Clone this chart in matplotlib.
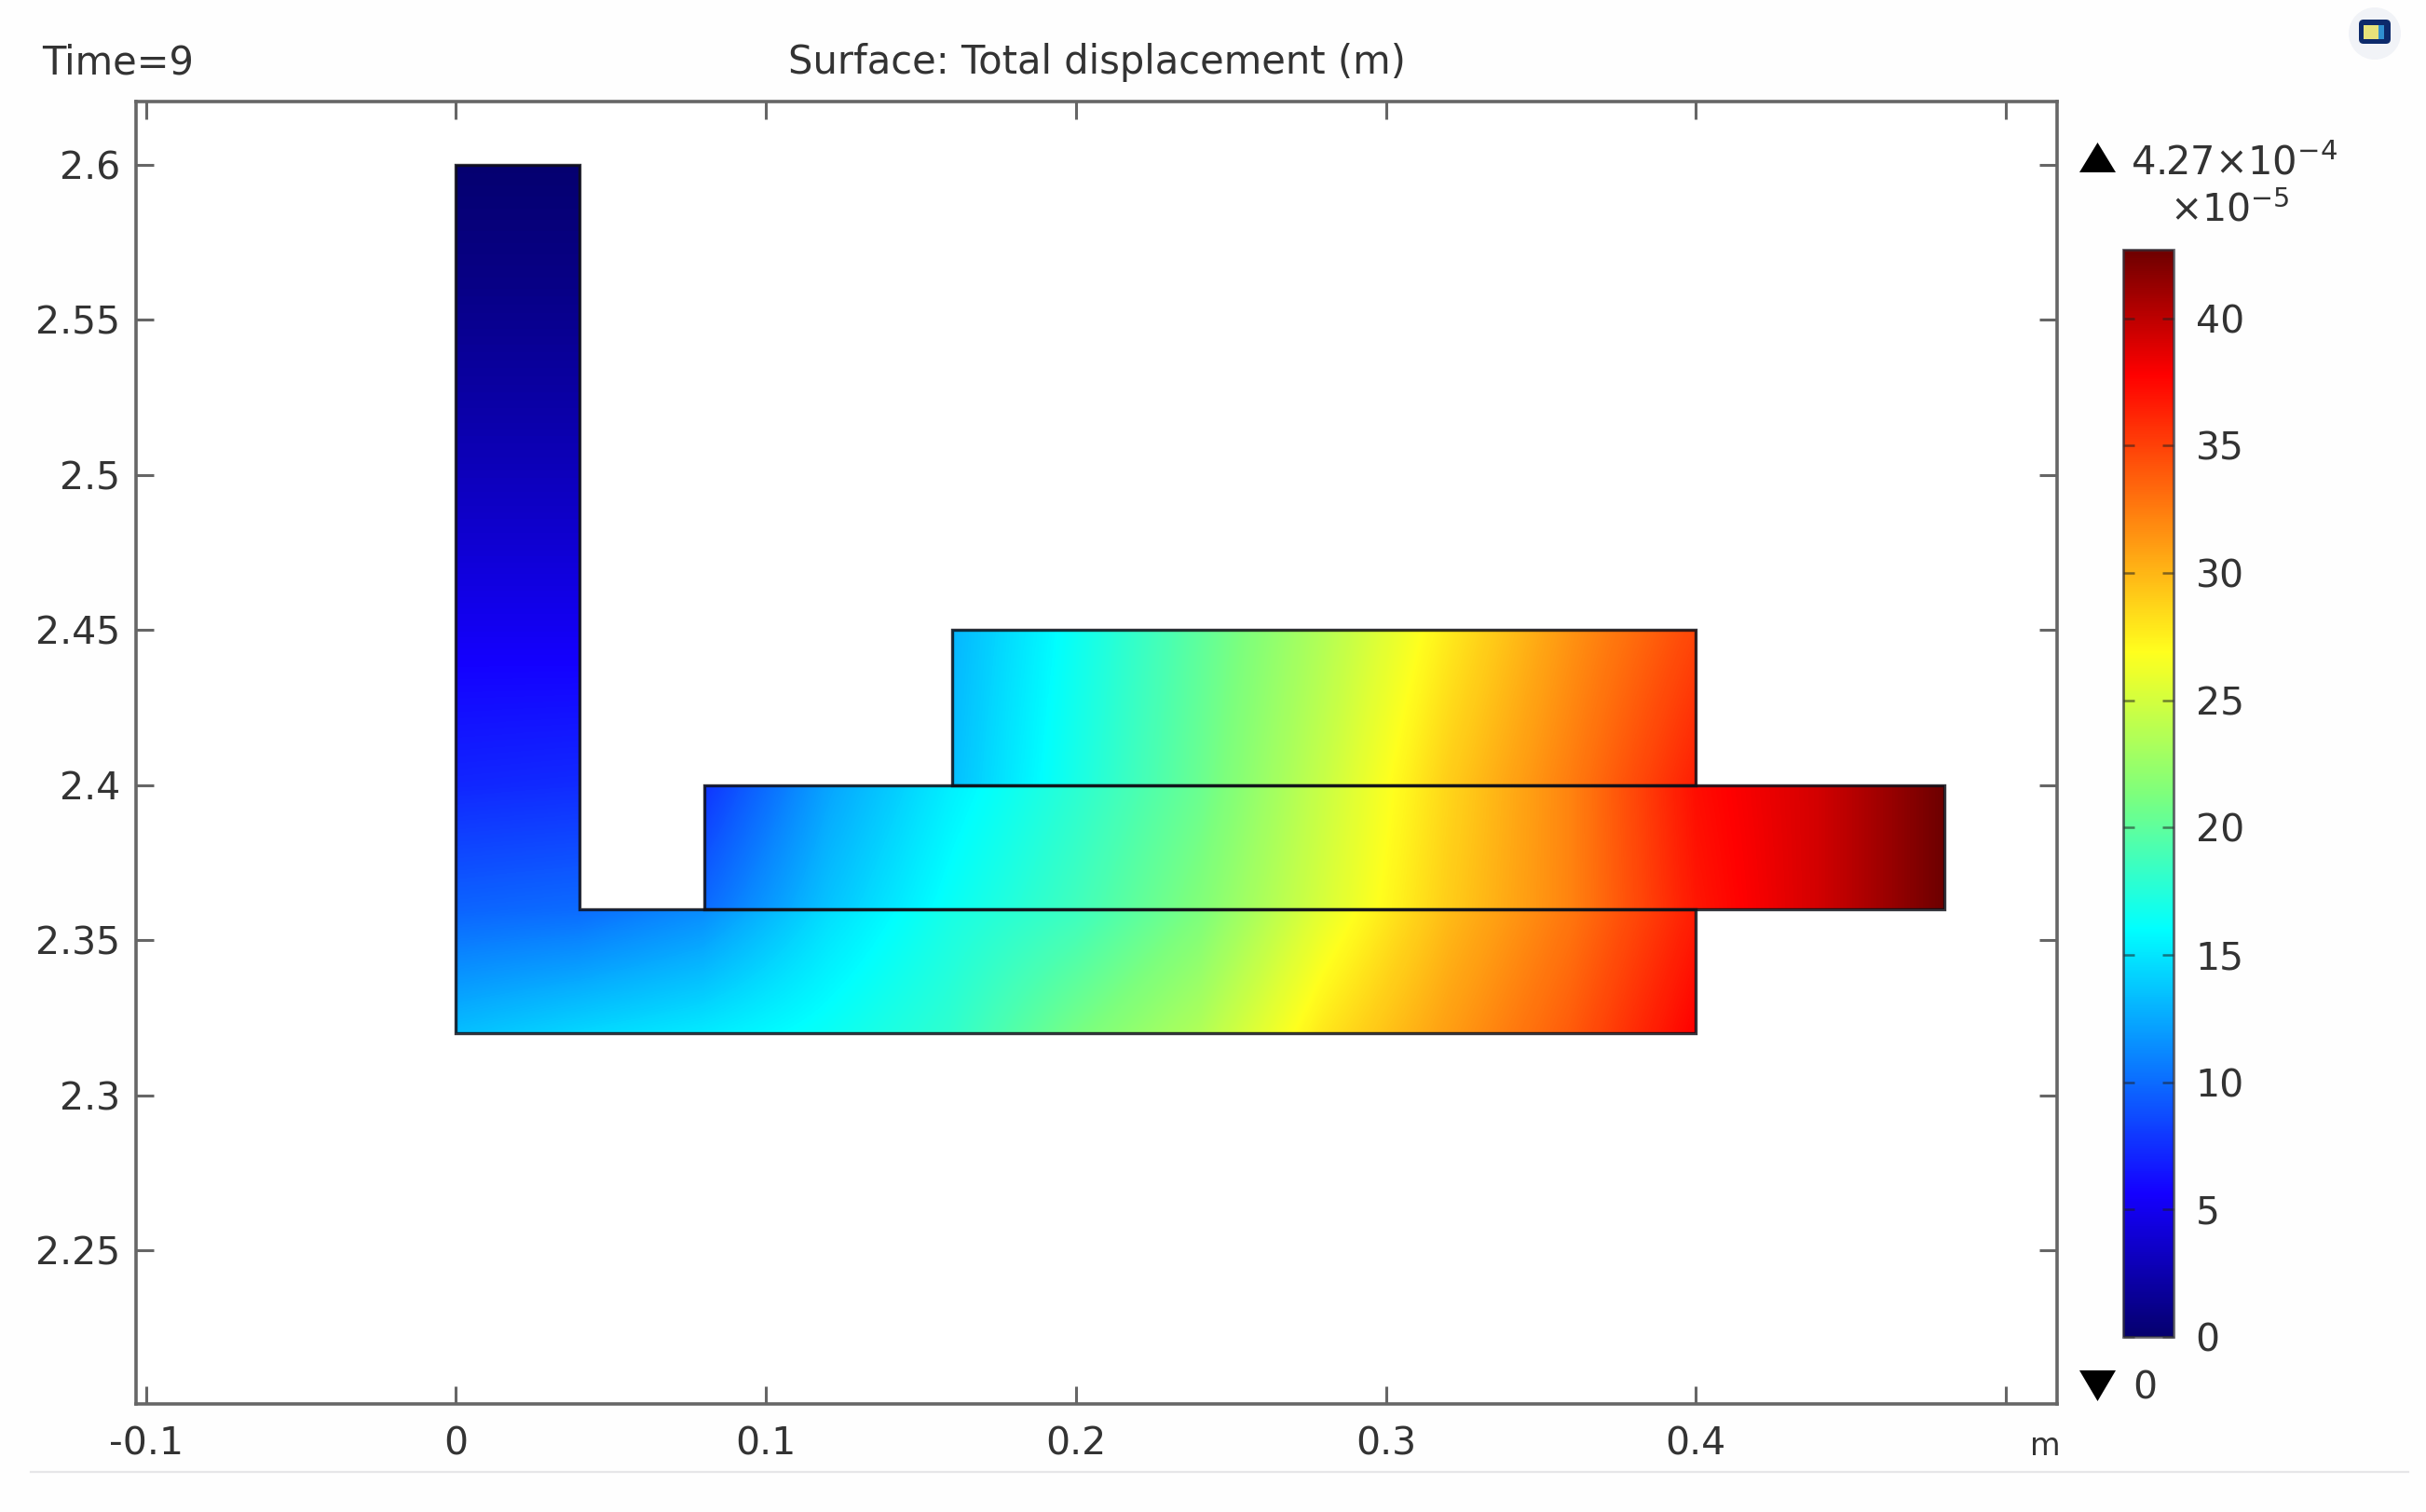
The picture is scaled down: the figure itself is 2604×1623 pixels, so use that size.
import numpy as np
import matplotlib
matplotlib.use("Agg")
import matplotlib.pyplot as plt
from matplotlib.patches import Rectangle, Polygon, Circle, FancyBboxPatch
from matplotlib.cm import ScalarMappable
from matplotlib.colors import Normalize, LinearSegmentedColormap

W, H = 2604, 1623
plt.rcParams["font.family"] = ["DejaVu Sans"]
plt.rcParams["mathtext.default"] = "regular"

TEXT = "#333333"
SPINE = "#666666"
FS = 29.5

# ── Field values, units of 1e-5 m ────────────────────────────────────────────
leg_x = [0.0, 0.04]
leg_y = [2.32, 2.36, 2.40, 2.44, 2.48, 2.52, 2.56, 2.60]
leg_vals = [[13.4, 14.4], [9.7, 10.0], [7.2, 7.4], [5.6, 5.6],
            [3.8, 3.8], [2.3, 2.3], [1.0, 1.0], [0.1, 0.1]]

beam_x = [0.0, 0.04, 0.08, 0.12, 0.16, 0.20, 0.24, 0.28, 0.32, 0.36, 0.40]
beam_y = [2.32, 2.36]
beam_vals = [[13.4, 14.4, 15.2, 16.4, 18.0, 21.0, 23.5, 27.9, 31.0, 33.9, 37.8],
             [9.7, 10.0, 11.3, 14.6, 17.0, 18.5, 21.2, 25.8, 29.7, 32.7, 36.5]]

mid_x = [0.08, 0.12, 0.16, 0.20, 0.24, 0.28, 0.32, 0.36, 0.40, 0.44, 0.48]
mid_y = [2.36, 2.40]
mid_vals = [[10.0, 13.6, 16.4, 18.7, 21.5, 25.2, 29.0, 32.2, 36.8, 39.3, 42.7],
            [7.7, 12.3, 15.4, 17.8, 20.5, 24.6, 28.6, 32.2, 37.2, 39.3, 42.7]]

top_x = [0.16, 0.20, 0.24, 0.28, 0.32, 0.36, 0.40]
top_y = [2.40, 2.45]
top_vals = [[13.4, 17.0, 20.5, 24.5, 29.0, 32.5, 36.5],
            [13.0, 16.5, 20.0, 23.6, 27.7, 31.5, 34.8]]

x_ticks = [-0.1, 0, 0.1, 0.2, 0.3, 0.4, 0.5]
x_tick_labels = ["-0.1", "0", "0.1", "0.2", "0.3", "0.4", ""]
y_ticks = [2.25, 2.3, 2.35, 2.4, 2.45, 2.5, 2.55, 2.6]
y_tick_labels = ["2.25", "2.3", "2.35", "2.4", "2.45", "2.5", "2.55", "2.6"]
cbar_ticks = [0, 5, 10, 15, 20, 25, 30, 35, 40]
v_max = 42.7

# colour scale as it shows on the colour bar
cmap_vals = [0, 5.6, 16.0, 21.3, 26.9, 37.8, 42.7]
cmap_cols = ["#05006e", "#1400ff", "#00ffff", "#7dff7d", "#ffff1e", "#ff0000", "#6e0000"]

l_outline = [(0, 2.32), (0.4, 2.32), (0.4, 2.36), (0.04, 2.36), (0.04, 2.6), (0, 2.6)]

cmap = LinearSegmentedColormap.from_list(
    "rainbow_comsol", [(v / v_max, c) for v, c in zip(cmap_vals, cmap_cols)], N=512)


def axes_px(fig, left, top, right, bottom, **kw):
    return fig.add_axes([left / W, 1 - bottom / H, (right - left) / W, (bottom - top) / H], **kw)


def draw_field(ax, xs, ys, vals):
    # values sit on grid nodes, so push the image half a cell out and clip it back
    dx = xs[1] - xs[0]
    dy = ys[1] - ys[0]
    im = ax.imshow(np.array(vals), origin="lower", cmap=cmap, vmin=0, vmax=v_max,
                   extent=[xs[0] - dx / 2, xs[-1] + dx / 2, ys[0] - dy / 2, ys[-1] + dy / 2],
                   interpolation="bilinear", interpolation_stage="data", aspect="auto", zorder=1)
    clip = Rectangle((xs[0], ys[0]), xs[-1] - xs[0], ys[-1] - ys[0], transform=ax.transData)
    im.set_clip_path(clip)


fig = plt.figure(figsize=(W / 100, H / 100), dpi=100, facecolor="#fefefe")

# ── Main plot ────────────────────────────────────────────────────────────────
ax = axes_px(fig, 146, 109, 2208, 1507)
ax.set_xlim(-0.1032, 0.5165)
ax.set_ylim(2.2005, 2.6203)

draw_field(ax, beam_x, beam_y, beam_vals)
draw_field(ax, leg_x, leg_y, leg_vals)
draw_field(ax, mid_x, mid_y, mid_vals)
draw_field(ax, top_x, top_y, top_vals)

edge = dict(fill=False, ec="#101018", lw=2.4, alpha=0.85, joinstyle="miter", zorder=3)
ax.add_patch(Polygon(l_outline, closed=True, **edge))
ax.add_patch(Rectangle((mid_x[0], mid_y[0]), mid_x[-1] - mid_x[0], mid_y[-1] - mid_y[0], **edge))
ax.add_patch(Rectangle((top_x[0], top_y[0]), top_x[-1] - top_x[0], top_y[-1] - top_y[0], **edge))

ax.set_xticks(x_ticks, x_tick_labels)
ax.set_yticks(y_ticks, y_tick_labels)
ax.tick_params(axis="both", direction="in", length=14, width=2.2, color=SPINE,
               labelsize=FS, labelcolor=TEXT, top=True, right=True)
ax.tick_params(axis="x", pad=17)
ax.tick_params(axis="y", pad=12)
for s in ax.spines.values():
    s.set_color(SPINE)
    s.set_linewidth(2.6)

# ── Colour bar ───────────────────────────────────────────────────────────────
cax = axes_px(fig, 2279, 268, 2333, 1435)
cb = fig.colorbar(ScalarMappable(Normalize(0, v_max), cmap), cax=cax)
cb.set_ticks(cbar_ticks)
cb.ax.tick_params(direction="in", length=8.5, width=1.8, color="#20202090", left=True, right=True,
                  labelsize=FS, labelcolor=TEXT, pad=17)
cb.outline.set_edgecolor("#30303a")
cb.outline.set_linewidth(2.0)
cb.outline.set_alpha(0.75)

# ── Everything else, placed in picture pixels ────────────────────────────────
ov = fig.add_axes([0, 0, 1, 1], zorder=5)
ov.set_xlim(0, W)
ov.set_ylim(H, 0)
ov.axis("off")

ov.text(45, 67, "Time=9", fontsize=30, color=TEXT, ha="left", va="center")
ov.text(1177, 67, "Surface: Total displacement (m)", fontsize=30, color=TEXT, ha="center", va="center")
ov.text(2212, 1562, "m", fontsize=24, color=TEXT, ha="right", va="baseline")

ov.add_patch(Polygon([(2232, 185), (2271, 185), (2251.5, 153)], fc="black", ec="none"))
ov.add_patch(Polygon([(2232, 1471), (2271, 1471), (2251.5, 1504)], fc="black", ec="none"))
ov.text(2287, 187, r"$4.27{\times}10^{-4}$", fontsize=30, color=TEXT, ha="left", va="baseline")
ov.text(2329, 238, r"${\times}10^{-5}$", fontsize=FS, color=TEXT, ha="left", va="baseline")
ov.text(2289, 1501, "0", fontsize=FS, color=TEXT, ha="left", va="baseline")

ov.plot([33, 2585], [1580, 1580], color="#e6e6e8", lw=1.6)

# small logo in the corner
ov.add_patch(Circle((2549, 36), 28, fc="#f1f3f7", ec="none"))
ov.add_patch(FancyBboxPatch((2534, 23), 30, 22, boxstyle="round,pad=2,rounding_size=5", fc="#0d2a6b", ec="none"))
ov.add_patch(Rectangle((2537, 27), 16, 15, fc="#e6e27a", ec="none"))
ov.add_patch(Rectangle((2553, 27), 6, 15, fc="#2f8fd0", ec="none"))

fig.savefig("out.png", dpi=100, facecolor=fig.get_facecolor())
